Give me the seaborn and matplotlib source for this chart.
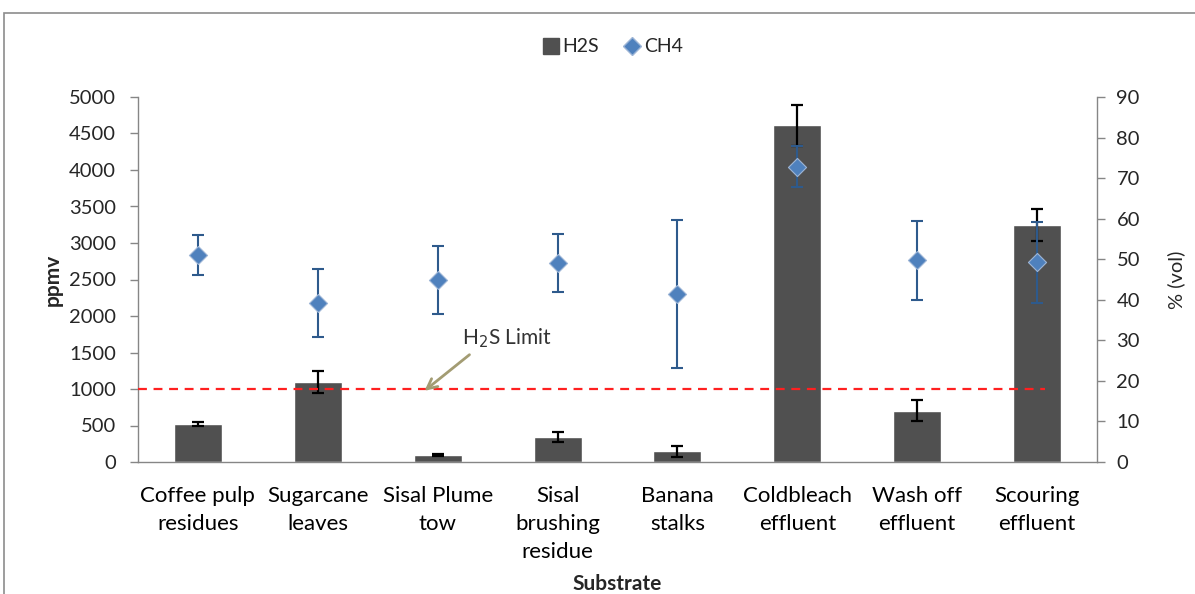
import numpy as np
import pandas as pd
import matplotlib
matplotlib.use("Agg")
import matplotlib.pyplot as plt
from matplotlib.patches import Rectangle
from matplotlib.lines import Line2D
import seaborn as sns

# Substrates tested and the measured biogas components
substrates = ["Coffee pulp\nresidues", "Sugarcane\nleaves", "Sisal Plume\ntow",
              "Sisal\nbrushing\nresidue", "Banana\nstalks", "Coldbleach\neffluent",
              "Wash off\neffluent", "Scouring\neffluent"]
h2s_ppmv = [520, 1095, 95, 340, 150, 4610, 705, 3250]
h2s_err = [25, 150, 10, 70, 75, 280, 145, 220]
ch4_vol = [51.0, 39.2, 44.9, 49.1, 41.4, 72.8, 49.7, 49.2]
ch4_err = [5.0, 8.5, 8.4, 7.2, 18.3, 5.0, 9.8, 10.0]
h2s_limit = 1000

sns.set_theme(style="white")
plt.rcParams["font.family"] = ["Lato", "DejaVu Sans"]

bar_color = "#505050"
ch4_color = "#4F81BD"
ch4_err_color = "#2E5A8C"
axis_color = "#868686"
tick_fs = 14.5

df = pd.DataFrame({"Substrate": substrates, "H2S": h2s_ppmv, "CH4": ch4_vol})

fig = plt.figure(figsize=(11.95, 5.94), dpi=100)
ax = fig.add_axes([138 / 1195, 132 / 594, (1097 - 138) / 1195, (462 - 97) / 594])

sns.barplot(data=df, x="Substrate", y="H2S", color=bar_color, width=0.4,
            saturation=1, ax=ax, zorder=2)
xpos = np.arange(len(substrates))
ax.errorbar(xpos, h2s_ppmv, yerr=h2s_err, fmt="none", ecolor="black",
            elinewidth=1.6, capsize=4.3, capthick=1.6, zorder=3)

# H2S limit line
ax.axhline(h2s_limit, xmin=0, xmax=0.946, color="#FF2020",
           linestyle=(0, (4, 3)), linewidth=1.6, zorder=4)
ax.annotate("H$_2$S Limit", xy=(1.89, 975), xytext=(2.58, 1700),
            ha="center", va="center", fontsize=15, color="#333333",
            arrowprops=dict(arrowstyle="->", color="#A39C73", lw=2,
                            relpos=(0.15, 0.0), shrinkA=2, shrinkB=0,
                            mutation_scale=18), zorder=5)

ax.set_xlim(-0.5, 7.5)
ax.set_ylim(0, 5000)
ax.set_yticks(np.arange(0, 5001, 500))
ax.set_xticks(xpos)
ax.set_xticklabels(substrates, fontsize=16, linespacing=1.5, color="black")
ax.set_xticks(np.arange(-0.5, 8.0, 1.0), minor=True)
ax.tick_params(axis="x", which="major", length=0, pad=17)
ax.tick_params(axis="x", which="minor", length=7, color=axis_color, width=1, direction="out")
ax.tick_params(axis="y", length=6, color=axis_color, width=1, direction="out",
               labelsize=tick_fs, pad=10, left=True)
ax.set_xlabel("Substrate", fontsize=15, fontweight="bold", labelpad=9)
ax.set_ylabel("ppmv", fontsize=15, fontweight="bold")
ax.yaxis.set_label_coords(-0.078, 0.5)

for side in ["left", "bottom"]:
    ax.spines[side].set_color(axis_color)
    ax.spines[side].set_linewidth(1)
ax.spines["top"].set_visible(False)
ax.spines["right"].set_visible(False)

# Secondary axis for methane content
ax2 = ax.twinx()
sns.scatterplot(x=xpos, y=ch4_vol, marker="D", s=85, color=ch4_color,
                edgecolor="#9DB5D6", linewidth=0.8, ax=ax2, zorder=6)
ax2.errorbar(xpos, ch4_vol, yerr=ch4_err, fmt="none", ecolor=ch4_err_color,
             elinewidth=1.5, capsize=4.2, capthick=1.5, zorder=5)
ax2.set_ylim(0, 90)
ax2.set_yticks(np.arange(0, 91, 10))
ax2.tick_params(axis="y", length=6, color=axis_color, width=1, direction="out",
                labelsize=tick_fs, pad=8, right=True)
ax2.set_ylabel("% (vol)", fontsize=14.5)
ax2.yaxis.set_label_coords(1.073, 0.5)
ax2.spines["right"].set_visible(True)
ax2.spines["right"].set_color(axis_color)
ax2.spines["right"].set_linewidth(1)
for side in ["top", "left", "bottom"]:
    ax2.spines[side].set_visible(False)
ax2.grid(False)
ax.grid(False)

# Legend across the top
handles = [Line2D([], [], marker="s", linestyle="none", markersize=12,
                  markerfacecolor=bar_color, markeredgecolor=bar_color),
           Line2D([], [], marker="D", linestyle="none", markersize=9,
                  markerfacecolor=ch4_color, markeredgecolor="#9DB5D6")]
fig.legend(handles, ["H2S", "CH4"], loc="center", bbox_to_anchor=(612 / 1195, 1 - 47 / 594),
           ncol=2, frameon=False, fontsize=14, handletextpad=0.1, columnspacing=1.2,
           handlelength=1.0)

# Chart area outline
fig.patches.append(Rectangle((4 / 1195, -0.1), 1.2, (594 - 13) / 594 + 0.1,
                             transform=fig.transFigure, fill=False,
                             edgecolor="#8C8C8C", linewidth=1.2))

fig.savefig("out.png", dpi=100)
